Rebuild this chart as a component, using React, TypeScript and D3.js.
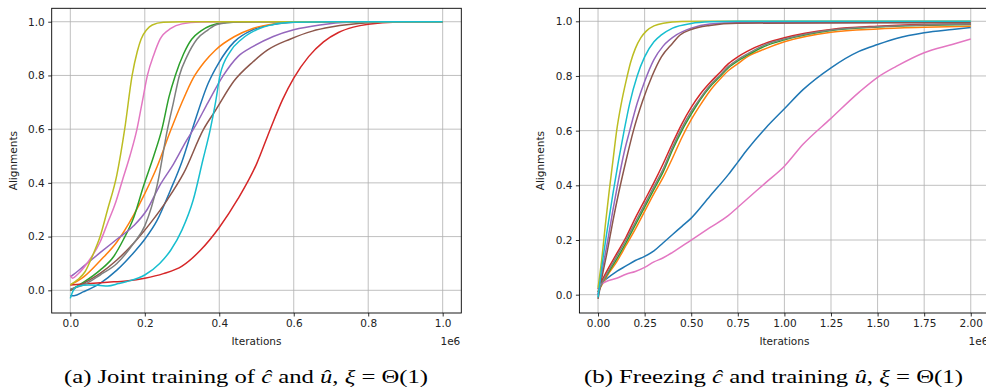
import React, { useEffect, useRef } from 'react';
import * as d3 from 'd3';

// tab10 colours, in matplotlib order
const colors = ['#1f77b4', '#ff7f0e', '#2ca02c', '#d62728', '#9467bd', '#8c564b', '#e377c2', '#7f7f7f', '#bcbd22', '#17becf'];

// (a) joint training, x in units of 1e6 iterations
const jointBlue = [[0, -0.02], [0.01, -0.02], [0.036, -0.005], [0.08, 0.026], [0.125, 0.075], [0.17, 0.14], [0.2, 0.19], [0.233, 0.26], [0.268, 0.37], [0.3, 0.48], [0.33, 0.61], [0.37, 0.77], [0.4, 0.85], [0.44, 0.925], [0.49, 0.97], [0.545, 0.99], [0.6, 0.998], [0.7, 1], [1, 1]];
const jointOrange = [[0, 0.02], [0.036, 0.05], [0.08, 0.11], [0.125, 0.18], [0.17, 0.28], [0.2, 0.36], [0.233, 0.46], [0.268, 0.59], [0.3, 0.7], [0.33, 0.79], [0.36, 0.85], [0.39, 0.895], [0.44, 0.944], [0.49, 0.975], [0.545, 0.992], [0.6, 0.999], [0.7, 1], [1, 1]];
const jointGreen = [[0, 0.0], [0.036, 0.03], [0.08, 0.075], [0.116, 0.125], [0.143, 0.19], [0.17, 0.27], [0.197, 0.39], [0.224, 0.5], [0.246, 0.6], [0.265, 0.72], [0.282, 0.8], [0.304, 0.88], [0.326, 0.935], [0.35, 0.965], [0.376, 0.985], [0.42, 0.997], [0.5, 1], [1, 1]];
const jointRed = [[0, 0.02], [0.05, 0.025], [0.1, 0.03], [0.15, 0.035], [0.2, 0.045], [0.25, 0.062], [0.3, 0.09], [0.35, 0.15], [0.4, 0.234], [0.45, 0.34], [0.5, 0.47], [0.537, 0.6], [0.57, 0.71], [0.6, 0.79], [0.64, 0.87], [0.68, 0.925], [0.72, 0.96], [0.76, 0.98], [0.8, 0.991], [0.88, 0.999], [1, 1]];
const jointPurple = [[0, 0.05], [0.01, 0.06], [0.036, 0.09], [0.08, 0.14], [0.125, 0.19], [0.17, 0.24], [0.206, 0.3], [0.24, 0.39], [0.277, 0.47], [0.313, 0.56], [0.335, 0.61], [0.37, 0.7], [0.411, 0.8], [0.45, 0.87], [0.49, 0.907], [0.545, 0.945], [0.6, 0.97], [0.67, 0.988], [0.75, 0.998], [0.85, 1], [1, 1]];
const jointBrown = [[0, 0.0], [0.036, 0.026], [0.08, 0.063], [0.125, 0.113], [0.17, 0.175], [0.215, 0.25], [0.26, 0.336], [0.304, 0.435], [0.358, 0.6], [0.39, 0.67], [0.44, 0.78], [0.49, 0.85], [0.53, 0.895], [0.59, 0.935], [0.65, 0.965], [0.7, 0.98], [0.8, 0.996], [0.9, 1], [1, 1]];
const jointPink = [[0, 0.057], [0.006, 0.045], [0.02, 0.06], [0.05, 0.11], [0.08, 0.18], [0.1, 0.25], [0.12, 0.32], [0.14, 0.41], [0.16, 0.5], [0.179, 0.6], [0.193, 0.7], [0.207, 0.8], [0.225, 0.88], [0.241, 0.935], [0.27, 0.975], [0.3, 0.992], [0.35, 0.999], [0.4, 1], [1, 1]];
const jointGray = [[0, 0.005], [0.036, 0.02], [0.08, 0.057], [0.125, 0.1], [0.17, 0.175], [0.2, 0.24], [0.233, 0.39], [0.261, 0.6], [0.277, 0.7], [0.293, 0.8], [0.313, 0.87], [0.34, 0.935], [0.37, 0.97], [0.394, 0.99], [0.45, 0.999], [0.5, 1], [1, 1]];
const jointOlive = [[0, 0.02], [0.02, 0.04], [0.04, 0.07], [0.06, 0.13], [0.08, 0.2], [0.1, 0.3], [0.125, 0.43], [0.146, 0.6], [0.166, 0.8], [0.18, 0.89], [0.19, 0.935], [0.205, 0.97], [0.22, 0.988], [0.25, 0.998], [0.3, 1], [1, 1]];
const jointCyan = [[0, -0.03], [0.008, 0.0], [0.02, 0.015], [0.05, 0.02], [0.08, 0.018], [0.1, 0.016], [0.13, 0.025], [0.15, 0.032], [0.2, 0.057], [0.24, 0.1], [0.27, 0.15], [0.3, 0.225], [0.33, 0.336], [0.356, 0.485], [0.376, 0.6], [0.39, 0.7], [0.402, 0.8], [0.43, 0.89], [0.46, 0.935], [0.5, 0.97], [0.545, 0.99], [0.6, 0.998], [0.7, 1], [1, 1]];

// (b) frozen c, x in units of 1e6 iterations
const frozenBlue = [[0, 0.0], [0.02, 0.04], [0.05, 0.06], [0.1, 0.085], [0.15, 0.105], [0.2, 0.125], [0.25, 0.14], [0.3, 0.16], [0.35, 0.19], [0.4, 0.22], [0.45, 0.25], [0.5, 0.28], [0.6, 0.36], [0.7, 0.44], [0.75, 0.485], [0.8, 0.53], [0.9, 0.61], [1.0, 0.68], [1.1, 0.75], [1.25, 0.83], [1.4, 0.89], [1.5, 0.915], [1.6, 0.937], [1.75, 0.958], [1.9, 0.97], [2, 0.977]];
const frozenOrange = [[0, 0.01], [0.02, 0.035], [0.05, 0.07], [0.1, 0.12], [0.15, 0.18], [0.2, 0.24], [0.25, 0.305], [0.3, 0.37], [0.35, 0.43], [0.4, 0.5], [0.45, 0.575], [0.5, 0.64], [0.55, 0.695], [0.6, 0.745], [0.65, 0.785], [0.7, 0.82], [0.75, 0.845], [0.8, 0.87], [0.9, 0.9], [1.0, 0.925], [1.25, 0.96], [1.5, 0.972], [1.75, 0.978], [2, 0.982]];
const frozenGreen = [[0, 0.01], [0.02, 0.04], [0.05, 0.075], [0.1, 0.13], [0.15, 0.19], [0.2, 0.255], [0.25, 0.32], [0.3, 0.385], [0.35, 0.45], [0.4, 0.53], [0.45, 0.6], [0.5, 0.66], [0.55, 0.715], [0.6, 0.76], [0.65, 0.795], [0.7, 0.83], [0.75, 0.855], [0.8, 0.875], [0.9, 0.91], [1.0, 0.932], [1.25, 0.966], [1.5, 0.979], [2, 0.988]];
const frozenRed = [[0, 0.02], [0.02, 0.05], [0.05, 0.09], [0.1, 0.15], [0.15, 0.21], [0.2, 0.28], [0.25, 0.345], [0.3, 0.41], [0.35, 0.48], [0.4, 0.555], [0.45, 0.625], [0.5, 0.685], [0.55, 0.735], [0.6, 0.775], [0.65, 0.81], [0.7, 0.845], [0.75, 0.87], [0.8, 0.89], [0.9, 0.92], [1.0, 0.94], [1.25, 0.97], [1.5, 0.982], [1.75, 0.988], [2, 0.99]];
const frozenPurple = [[0, 0.0], [0.02, 0.08], [0.05, 0.19], [0.08, 0.31], [0.11, 0.42], [0.14, 0.52], [0.17, 0.6], [0.21, 0.7], [0.25, 0.78], [0.3, 0.86], [0.35, 0.91], [0.42, 0.95], [0.5, 0.975], [0.6, 0.99], [0.75, 0.995], [2, 0.996]];
const frozenBrown = [[0, -0.015], [0.02, 0.06], [0.05, 0.16], [0.08, 0.27], [0.11, 0.37], [0.15, 0.49], [0.19, 0.6], [0.24, 0.71], [0.29, 0.8], [0.34, 0.87], [0.4, 0.92], [0.44, 0.95], [0.5, 0.97], [0.6, 0.985], [0.75, 0.993], [2, 0.995]];
const frozenPink = [[0, 0.03], [0.02, 0.04], [0.05, 0.05], [0.1, 0.06], [0.15, 0.075], [0.2, 0.085], [0.25, 0.1], [0.3, 0.12], [0.35, 0.135], [0.4, 0.155], [0.5, 0.2], [0.6, 0.245], [0.7, 0.29], [0.75, 0.32], [0.8, 0.35], [0.9, 0.41], [1.0, 0.47], [1.1, 0.55], [1.25, 0.645], [1.4, 0.74], [1.5, 0.795], [1.6, 0.835], [1.75, 0.885], [1.9, 0.915], [2, 0.935]];
const frozenGray = [[0, 0.01], [0.02, 0.04], [0.05, 0.08], [0.1, 0.14], [0.15, 0.2], [0.2, 0.265], [0.25, 0.33], [0.3, 0.395], [0.35, 0.46], [0.4, 0.54], [0.45, 0.61], [0.5, 0.67], [0.55, 0.72], [0.6, 0.765], [0.65, 0.8], [0.7, 0.835], [0.75, 0.86], [0.8, 0.88], [0.9, 0.915], [1.0, 0.935], [1.25, 0.968], [1.5, 0.98], [2, 0.99]];
const frozenOlive = [[0, 0.025], [0.02, 0.13], [0.04, 0.26], [0.06, 0.38], [0.08, 0.49], [0.1, 0.6], [0.125, 0.7], [0.15, 0.78], [0.175, 0.85], [0.2, 0.9], [0.23, 0.94], [0.26, 0.965], [0.3, 0.983], [0.35, 0.993], [0.45, 0.999], [0.6, 1], [2, 1]];
const frozenCyan = [[0, -0.01], [0.02, 0.1], [0.05, 0.24], [0.08, 0.37], [0.11, 0.49], [0.14, 0.6], [0.17, 0.7], [0.21, 0.8], [0.25, 0.87], [0.3, 0.925], [0.34, 0.95], [0.4, 0.975], [0.5, 0.992], [0.6, 0.998], [0.75, 1], [2, 1]];

const jointSeries = [jointBlue, jointOrange, jointGreen, jointRed, jointPurple, jointBrown, jointPink, jointGray, jointOlive, jointCyan];
const frozenSeries = [frozenBlue, frozenOrange, frozenGreen, frozenRed, frozenPurple, frozenBrown, frozenPink, frozenGray, frozenOlive, frozenCyan];

const jointXTicks = [0, 0.2, 0.4, 0.6, 0.8, 1.0];
const frozenXTicks = [0, 0.25, 0.5, 0.75, 1.0, 1.25, 1.5, 1.75, 2.0];
const yTicks = [0, 0.2, 0.4, 0.6, 0.8, 1.0];

const W = 986;
const H = 392;
const TICK_FONT = '"DejaVu Sans", sans-serif';

const drawPanel = (root, opts) => {
  const { series, xDomain, yDomain, left, right, top, bottom, xTicks, xFmt, id } = opts;
  const x = d3.scaleLinear().domain(xDomain).range([left, right]);
  const y = d3.scaleLinear().domain(yDomain).range([bottom, top]);
  const g = root.append('g');

  g.append('clipPath').attr('id', id)
    .append('rect')
    .attr('x', left).attr('y', top)
    .attr('width', right - left).attr('height', bottom - top);

  // grid
  g.append('g')
    .selectAll('line')
    .data(xTicks)
    .enter().append('line')
    .attr('x1', d => x(d)).attr('x2', d => x(d))
    .attr('y1', top).attr('y2', bottom)
    .attr('stroke', '#b0b0b0').attr('stroke-width', 0.8);
  g.append('g')
    .selectAll('line')
    .data(yTicks)
    .enter().append('line')
    .attr('x1', left).attr('x2', right)
    .attr('y1', d => y(d)).attr('y2', d => y(d))
    .attr('stroke', '#b0b0b0').attr('stroke-width', 0.8);

  const line = d3.line()
    .x(d => x(d[0]))
    .y(d => y(d[1]))
    .curve(d3.curveMonotoneX);

  g.append('g')
    .attr('clip-path', `url(#${id})`)
    .selectAll('path')
    .data(series)
    .enter().append('path')
    .attr('d', d => line(d))
    .attr('fill', 'none')
    .attr('stroke', (d, i) => colors[i])
    .attr('stroke-width', 1.5)
    .attr('stroke-linejoin', 'round');

  // axes
  const xAxis = g.append('g')
    .attr('transform', `translate(0,${bottom})`)
    .call(d3.axisBottom(x).tickValues(xTicks).tickFormat(d3.format(xFmt)).tickSizeInner(3.5).tickSizeOuter(0).tickPadding(3.5));
  const yAxis = g.append('g')
    .attr('transform', `translate(${left},0)`)
    .call(d3.axisLeft(y).tickValues(yTicks).tickFormat(d3.format('.1f')).tickSizeInner(3.5).tickSizeOuter(0).tickPadding(3.5));
  [xAxis, yAxis].forEach(a => {
    a.select('.domain').remove();
    a.selectAll('line').attr('stroke', '#000').attr('stroke-width', 0.8);
    a.selectAll('text')
      .attr('fill', '#222')
      .style('font-family', TICK_FONT)
      .style('font-size', '10.5px');
  });

  // spines
  g.append('rect')
    .attr('x', left).attr('y', top)
    .attr('width', right - left).attr('height', bottom - top)
    .attr('fill', 'none').attr('stroke', '#000').attr('stroke-width', 0.9);

  g.append('text')
    .attr('x', (left + right) / 2).attr('y', 345)
    .attr('text-anchor', 'middle')
    .attr('fill', '#222')
    .style('font-family', TICK_FONT).style('font-size', '10.5px')
    .text('Iterations');
  g.append('text')
    .attr('x', right - 1).attr('y', 345)
    .attr('text-anchor', 'end')
    .attr('fill', '#222')
    .style('font-family', TICK_FONT).style('font-size', '10.5px')
    .text('1e6');
  g.append('text')
    .attr('transform', `translate(${left - 35},${(top + bottom) / 2}) rotate(-90)`)
    .attr('text-anchor', 'middle')
    .attr('fill', '#222')
    .style('font-family', TICK_FONT).style('font-size', '10.5px')
    .text('Alignments');
};

const Caption = ({ x, y, width, label }) => (
  <text x={x} y={y} textLength={width} lengthAdjust="spacingAndGlyphs"
    style={{ fontFamily: '"Liberation Serif", "Times New Roman", serif', fontSize: 19 }} fill="#000">
    {label}
  </text>
);

const App = () => {
  const svgRef = useRef(null);

  useEffect(() => {
    const root = d3.select(svgRef.current).select('g.plots');
    root.selectAll('*').remove();
    drawPanel(root, {
      id: 'clipA', series: jointSeries,
      xDomain: [-0.05, 1.05], yDomain: [-0.0845, 1.05],
      left: 51.7, right: 461.3, top: 8.3, bottom: 313,
      xTicks: jointXTicks, xFmt: '.1f',
    });
    drawPanel(root, {
      id: 'clipB', series: frozenSeries,
      xDomain: [-0.1, 2.1], yDomain: [-0.067, 1.0475],
      left: 579.4, right: 989.4, top: 8.3, bottom: 313,
      xTicks: frozenXTicks, xFmt: '.2f',
    });
  }, []);

  return (
    <svg ref={svgRef} width={W} height={H}
      style={{ position: 'absolute', left: 0, top: 0, background: '#fff' }}>
      <rect width={W} height={H} fill="#fff" />
      <g className="plots" />
      <Caption x={64} y={383} width={364} label={<>
        (a) Joint training of <tspan fontStyle="italic">ĉ</tspan> and <tspan fontStyle="italic">û</tspan>, <tspan fontStyle="italic">ξ</tspan> = Θ(1)
      </>} />
      <Caption x={584} y={383} width={379} label={<>
        (b) Freezing <tspan fontStyle="italic">ĉ</tspan> and training <tspan fontStyle="italic">û</tspan>, <tspan fontStyle="italic">ξ</tspan> = Θ(1)
      </>} />
    </svg>
  );
};

export default App;
